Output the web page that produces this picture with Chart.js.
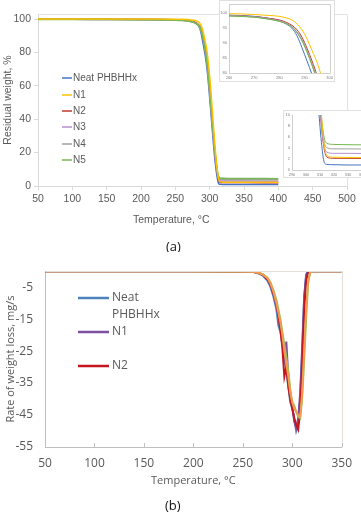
<!DOCTYPE html>
<html>
<head>
<meta charset="utf-8">
<script src="https://cdn.jsdelivr.net/npm/chart.js@4.4.1/dist/chart.umd.min.js"></script>
<style>
  body { margin: 0; width: 361px; height: 512px; overflow: hidden; position: relative; background: #fff; }
  canvas, .lab { position: absolute; }
  .lab { font-family: 'Open Sans', sans-serif; font-size: 13px; color: #111; }
</style>
</head>
<body>
<canvas id="tga" width="361" height="232" style="left:0;top:0"></canvas>
<canvas id="ins1" width="116" height="82" style="left:219px;top:0"></canvas>
<canvas id="ins2" width="100" height="68" style="left:283px;top:110px"></canvas>
<div class="lab" style="left:133px;top:213px;font-family:'Liberation Sans',Arial,sans-serif;font-size:10.5px;color:#595959">Temperature, °C</div>
<div class="lab" style="left:166px;top:237px">(a)</div>
<canvas id="dtg" width="361" height="240" style="left:0;top:252px"></canvas>
<div class="lab" style="left:165px;top:496px">(b)</div>
<script>
// ---- (a) TGA data ----
const tempA = [50, 100, 150, 200, 250, 260, 270, 276, 280, 283, 285, 287, 289, 291, 293, 295, 297, 299, 301, 303, 305, 307, 309, 311, 313, 315, 320, 330, 350, 400];
const neatA = [99.9, 99.9, 99.8, 99.8, 99.6, 99.4, 99.0, 98.3, 97.5, 96.3, 95.0, 92.5, 88.5, 84, 79.5, 74, 67, 58, 48, 38, 28, 18.5, 11, 5, 1.4, 1.0, 0.95, 0.9, 0.9, 0.85];
const n1A = [100, 100, 100, 100, 99.9, 99.9, 99.6, 99.3, 99.0, 98.4, 97.8, 96.5, 94.5, 91.5, 87.5, 83.5, 78, 70, 61, 50, 39, 28, 18, 10, 4.5, 2.6, 2.3, 2.25, 2.2, 2.2];
const n2A = [99.8, 99.8, 99.8, 99.7, 99.5, 99.3, 98.9, 98.3, 97.8, 96.9, 96.0, 94.5, 92.0, 88.3, 84, 79, 72, 63, 53, 43, 33, 23, 14.5, 8, 3.8, 2.3, 2.1, 2.1, 2.05, 2.0];
const n3A = [99.8, 99.8, 99.7, 99.7, 99.4, 99.2, 98.8, 98.1, 97.5, 96.6, 95.6, 93.8, 91.2, 87.5, 83, 78, 71, 62, 52, 42, 32, 22.5, 14, 7.8, 4.3, 3.2, 3.0, 3.0, 2.95, 2.9];
const n4A = [99.8, 99.8, 99.7, 99.6, 99.4, 99.2, 98.8, 98.1, 97.4, 96.5, 95.5, 93.6, 91, 87.3, 82.8, 77.6, 70.5, 61.5, 52, 42, 32.5, 23, 15, 8.8, 5.0, 4.0, 3.8, 3.8, 3.75, 3.7];
const n5A = [99.7, 99.7, 99.7, 99.6, 99.3, 99.1, 98.7, 98.0, 97.3, 96.4, 95.4, 93.5, 90.8, 87, 82.5, 77.3, 70.5, 62, 52.5, 43, 33.5, 24, 16, 9.5, 5.8, 4.8, 4.6, 4.55, 4.5, 4.4];
const namesA = ['Neat PHBHHx', 'N1', 'N2', 'N3', 'N4', 'N5'];
const xTicksA = [50, 100, 150, 200, 250, 300, 350, 400, 450, 500];
const yTicksA = [0, 20, 40, 60, 80, 100];
const xTicksIns1 = [260, 270, 280, 290, 300];
const yTicksIns1 = [80, 85, 90, 95, 100];
const xTicksIns2 = [290, 300, 310, 320, 330, 340];
const yTicksIns2 = [0, 2, 4, 6, 8, 10];

// ---- (b) DTG data ----
const tempB = [50, 100, 150, 200, 250, 260, 265, 270, 275, 278, 281, 284, 286, 288, 290, 292, 294, 296, 298, 300, 302, 304, 306, 308, 310, 312, 314, 316, 318, 320, 330, 350];
const neatB = [0, 0, 0, 0, -0.1, -0.2, -0.6, -1.3, -3, -5, -8, -12, -17, -19, -23, -27, -31, -36, -41, -43, -46, -50, -48, -40, -26, -9, -1, 0, 0, 0, 0, 0];
const n1B = [0, 0, 0, 0, -0.1, -0.2, -0.5, -1.1, -2.6, -4.3, -7, -11, -14, -18, -21, -27, -22, -33, -38, -42, -47, -49, -46, -38, -24, -8, -1.5, 0, 0, 0, 0, 0];
const n2B = [0, 0, 0, 0, -0.1, -0.2, -0.5, -1, -2.5, -4, -7, -10, -14, -18, -24, -33, -30, -36, -40, -43, -46, -48, -49.5, -44, -30, -13, -3, -0.5, 0, 0, 0, 0];
const n3B = [0, 0, 0, 0, -0.1, -0.2, -0.4, -0.9, -2, -3.5, -6, -9, -12, -15, -19, -23, -27, -31, -37, -41, -42, -44, -45.5, -46, -40, -28, -15, -4, -0.5, 0, 0, 0];
const n4B = [0, 0, 0, 0, -0.1, -0.2, -0.5, -1, -2.2, -3.8, -6.5, -10, -13, -16, -20, -25, -29, -33, -38, -41, -43, -44, -45, -45.5, -38, -25, -12, -3, -0.3, 0, 0, 0];
const namesB = ['Neat PHBHHx', 'N1', 'N2', 'N3', 'N4'];
const xTicksB = [50, 100, 150, 200, 250, 300, 350];
const yTicksB = [-55, -45, -35, -25, -15, -5];

const colorsA = ['#4472c4', '#ffc000', '#c0392b', '#b58fd0', '#a0a0a0', '#76b852'];
const colorsB = ['#4f81bd', '#7d4fa0', '#c4161c', '#9bc25a', '#f59a4f'];

const pts = (xs, ys) => xs.map((x, i) => ({ x: x, y: ys[i] }));
const setTicks = list => axis => { axis.ticks = list.map(v => ({ value: v })); };

// white background + frame around plot area
const framePlugin = {
  id: 'frame',
  beforeDraw(chart, args, opts) {
    const ctx = chart.ctx;
    ctx.save();
    ctx.fillStyle = '#fff';
    ctx.fillRect(0, 0, chart.width, chart.height);
    if (opts.outer) {
      ctx.strokeStyle = opts.outer;
      ctx.lineWidth = 1;
      ctx.strokeRect(0.5, 0.5, chart.width - 1, chart.height - 1);
    }
    ctx.restore();
  },
  afterDraw(chart, args, opts) {
    const a = chart.chartArea;
    const ctx = chart.ctx;
    ctx.save();
    ctx.strokeStyle = opts.color || '#d9d9d9';
    ctx.lineWidth = 1;
    ctx.beginPath();
    ctx.moveTo(Math.round(a.left) + 0.5, Math.round(a.top) + 0.5);
    ctx.lineTo(Math.round(a.right) + 0.5, Math.round(a.top) + 0.5);
    ctx.lineTo(Math.round(a.right) + 0.5, Math.round(a.bottom) + 0.5);
    ctx.stroke();
    if (opts.innerTicks) {
      const xs = chart.scales.x;
      ctx.strokeStyle = opts.tickColor;
      xs.ticks.forEach(t => {
        const px = Math.round(xs.getPixelForValue(t.value)) + 0.5;
        ctx.beginPath();
        ctx.moveTo(px, a.bottom);
        ctx.lineTo(px, a.bottom - 4);
        ctx.stroke();
      });
    }
    ctx.restore();
  }
};

// legend drawn inside the plot area
const legendPlugin = {
  id: 'legendBox',
  afterDraw(chart, args, opts) {
    if (!opts.items) return;
    const ctx = chart.ctx;
    ctx.save();
    ctx.font = opts.font;
    ctx.fillStyle = opts.textColor;
    ctx.textBaseline = 'middle';
    opts.items.forEach(item => {
      const ds = chart.data.datasets[item.index];
      ctx.strokeStyle = ds.borderColor;
      ctx.lineWidth = opts.lineWidth;
      ctx.beginPath();
      ctx.moveTo(opts.x1, item.y);
      ctx.lineTo(opts.x2, item.y);
      ctx.stroke();
      const lines = item.lines || [ds.label];
      lines.forEach((t, k) => ctx.fillText(t, opts.textX, item.y + k * opts.lineGap));
    });
    ctx.restore();
  }
};
Chart.register(framePlugin, legendPlugin);

const seriesA = [neatA, n1A, n2A, n3A, n4A, n5A];
function datasetsA(width) {
  return seriesA.map((s, i) => ({
    label: namesA[i],
    data: pts(tempA, s),
    borderColor: colorsA[i],
    borderWidth: width,
    pointRadius: 0,
    cubicInterpolationMode: 'monotone',
    order: i === 1 ? 0 : 6 - i
  }));
}

const fontA = { family: "'Liberation Sans', Arial, sans-serif", size: 10.5 };
const gridA = { display: true, drawOnChartArea: false, drawTicks: true, tickLength: 4, color: '#d9d9d9' };

// main TGA chart
new Chart(document.getElementById('tga'), {
  type: 'line',
  data: { datasets: datasetsA(1.5) },
  options: {
    responsive: false, animation: false, devicePixelRatio: 1,
    layout: { padding: { top: 14, right: 14, left: 0, bottom: 0 } },
    plugins: {
      legend: { display: false }, tooltip: { enabled: false },
      frame: { color: '#e2e2e2' },
      legendBox: {
        font: "10px 'Liberation Sans', Arial, sans-serif", textColor: '#595959',
        x1: 62, x2: 72, textX: 73, lineWidth: 1.5, lineGap: 12,
        items: [{ index: 0, y: 78 }, { index: 1, y: 95 }, { index: 2, y: 111 }, { index: 3, y: 127 }, { index: 4, y: 144 }, { index: 5, y: 160 }]
      }
    },
    scales: {
      x: {
        type: 'linear', min: 50, max: 500,
        afterBuildTicks: setTicks(xTicksA),
        afterFit: s => { s.height = 46; },
        ticks: { color: '#595959', font: fontA, padding: 3, maxRotation: 0, autoSkip: false },
        grid: gridA, border: { color: '#d9d9d9' }
      },
      y: {
        min: 0, max: 103,
        afterBuildTicks: setTicks(yTicksA),
        afterFit: s => { s.width = 38; },
        ticks: { color: '#595959', font: fontA, padding: 3, autoSkip: false },
        grid: gridA, border: { color: '#d9d9d9' },
        title: { display: true, text: 'Residual weight, %', color: '#595959', font: { family: fontA.family, size: 10.5 }, padding: { top: 2, bottom: 0 } }
      }
    }
  }
});

const fontIns = { family: "'Liberation Sans', Arial, sans-serif", size: 4 };
const gridIns = { display: true, drawOnChartArea: false, drawTicks: false, color: '#d0d0d0' };

// inset: onset of decomposition
new Chart(document.getElementById('ins1'), {
  type: 'line',
  data: { datasets: datasetsA(1) },
  options: {
    responsive: false, animation: false, devicePixelRatio: 1,
    layout: { padding: { top: 1, right: 3, left: 0, bottom: 0 } },
    plugins: { legend: { display: false }, tooltip: { enabled: false }, frame: { color: '#d0d0d0', outer: '#e0e0e0' } },
    scales: {
      x: {
        type: 'linear', min: 260, max: 300,
        afterBuildTicks: setTicks(xTicksIns1),
        afterFit: s => { s.height = 9; },
        ticks: { color: '#808080', font: fontIns, padding: 2, maxRotation: 0, autoSkip: false },
        grid: gridIns, border: { color: '#d0d0d0' }
      },
      y: {
        min: 80, max: 103,
        afterBuildTicks: setTicks(yTicksIns1),
        afterFit: s => { s.width = 10; },
        ticks: { color: '#808080', font: fontIns, padding: 2, autoSkip: false },
        grid: gridIns, border: { color: '#d0d0d0' }
      }
    }
  }
});

// inset: residue
new Chart(document.getElementById('ins2'), {
  type: 'line',
  data: { datasets: datasetsA(1) },
  options: {
    responsive: false, animation: false, devicePixelRatio: 1,
    layout: { padding: { top: 2, right: 7, left: 0, bottom: 0 } },
    plugins: { legend: { display: false }, tooltip: { enabled: false }, frame: { color: '#ffffff', outer: '#e0e0e0' } },
    scales: {
      x: {
        type: 'linear', min: 290, max: 350,
        afterBuildTicks: setTicks(xTicksIns2),
        afterFit: s => { s.height = 8; },
        ticks: { color: '#808080', font: fontIns, padding: 2, maxRotation: 0, autoSkip: false },
        grid: gridIns, border: { color: '#d0d0d0' }
      },
      y: {
        min: 0, max: 10,
        afterBuildTicks: setTicks(yTicksIns2),
        afterFit: s => { s.width = 9; },
        ticks: { color: '#808080', font: fontIns, padding: 2, autoSkip: false },
        grid: gridIns, border: { color: '#d0d0d0' }
      }
    }
  }
});

// DTG chart
const seriesB = [neatB, n1B, n2B, n3B, n4B];
const fontB = { family: "'Open Sans', sans-serif", size: 12 };
new Chart(document.getElementById('dtg'), {
  type: 'line',
  data: {
    datasets: seriesB.map((s, i) => ({
      label: namesB[i],
      data: pts(tempB, s),
      borderColor: colorsB[i],
      borderWidth: 2,
      pointRadius: 0,
      order: 4 - i
    }))
  },
  options: {
    responsive: false, animation: false, devicePixelRatio: 1,
    layout: { padding: { top: 11, right: 13, left: 0, bottom: 0 } },
    plugins: {
      legend: { display: false }, tooltip: { enabled: false },
      frame: { color: '#e3ded6', innerTicks: true, tickColor: '#bfbfbf' },
      legendBox: {
        font: "12px 'Open Sans', sans-serif", textColor: '#595959',
        x1: 78, x2: 109, textX: 112, lineWidth: 2.5, lineGap: 17,
        items: [{ index: 0, y: 46, lines: ['Neat', 'PHBHHx'] }, { index: 1, y: 80 }, { index: 2, y: 114 }]
      }
    },
    scales: {
      x: {
        type: 'linear', min: 50, max: 350,
        afterBuildTicks: setTicks(xTicksB),
        afterFit: s => { s.height = 45; },
        ticks: { color: '#595959', font: fontB, padding: 9, maxRotation: 0, autoSkip: false },
        grid: { display: true, drawOnChartArea: false, drawTicks: false },
        border: { color: '#bfbfbf' },
        title: { display: true, text: 'Temperature, °C', color: '#595959', font: { family: fontB.family, size: 11 }, padding: { top: 0, bottom: 5 } }
      },
      y: {
        min: -55, max: 0,
        afterBuildTicks: setTicks(yTicksB),
        afterFit: s => { s.width = 45; },
        ticks: { color: '#595959', font: fontB, padding: 12, autoSkip: false },
        grid: { display: true, drawOnChartArea: false, drawTicks: false },
        border: { color: '#bfbfbf' },
        title: { display: true, text: 'Rate of weight loss, mg/s', color: '#595959', font: { family: fontB.family, size: 11 }, padding: { top: 4, bottom: 0 } }
      }
    }
  }
});
</script>
</body>
</html>
